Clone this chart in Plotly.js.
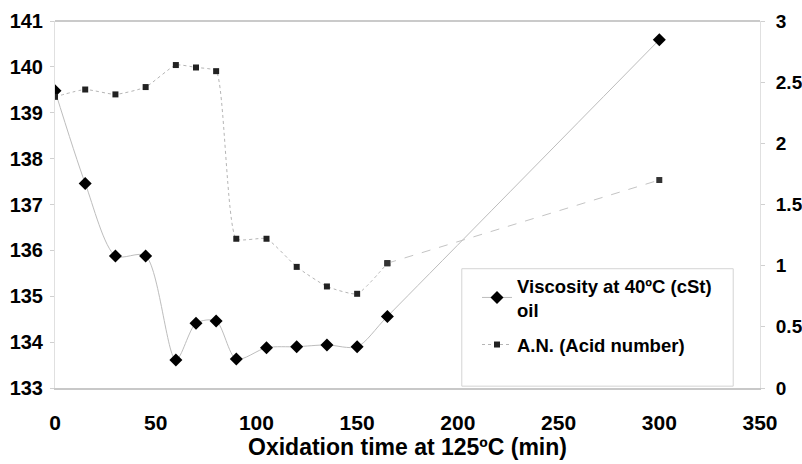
<!DOCTYPE html>
<html>
<head>
<meta charset="utf-8">
<script src="https://cdn.plot.ly/plotly-3.0.1.min.js"></script>
<style>
  html, body { margin: 0; padding: 0; background: #fff; }
  #chart { width: 802px; height: 464px; }
</style>
</head>
<body>
<div id="chart"></div>
<script>
// Oxidation time (min)
const oxidationTime = [0, 15, 30, 45, 60, 70, 80, 90, 105, 120, 135, 150, 165, 300];
// Viscosity at 40 ºC (cSt), left axis
const viscosity = [139.48, 137.46, 135.88, 135.88, 133.61, 134.41, 134.46, 133.63, 133.88, 133.90, 133.94, 133.90, 134.56, 140.59];
// Acid number, right axis
const acidNumber = [2.38, 2.44, 2.40, 2.46, 2.64, 2.62, 2.59, 1.22, 1.22, 0.99, 0.83, 0.77, 1.02, 1.70];

const xTicks = [0, 50, 100, 150, 200, 250, 300, 350];
const leftTicks = [133, 134, 135, 136, 137, 138, 139, 140, 141];
const rightTicks = [0, 0.5, 1, 1.5, 2, 2.5, 3];

const viscosityName = 'Viscosity at 40ºC (cSt)<br>oil';
const acidName = 'A.N. (Acid number)';

const FONT = 'Liberation Sans, Arial, sans-serif';

// the last acid-number stretch (165 -> 300 min) is drawn dashed
const tailStart = oxidationTime.length - 2;

const traces = [
  {
    x: oxidationTime, y: viscosity, yaxis: 'y', name: viscosityName,
    legendgroup: 'visc',
    mode: 'lines+markers',
    line: { color: '#bdbdbd', width: 1, shape: 'spline', smoothing: 0.8 },
    marker: { symbol: 'diamond', size: 10, color: '#000' }
  },
  {
    x: oxidationTime.slice(0, tailStart + 1), y: acidNumber.slice(0, tailStart + 1), yaxis: 'y2', name: acidName,
    legendgroup: 'an',
    mode: 'lines+markers',
    line: { color: '#b5b5b5', width: 1, dash: 'dot', shape: 'spline', smoothing: 0.5 },
    marker: { symbol: 'square', size: 6, color: '#222' }
  },
  {
    x: oxidationTime.slice(tailStart), y: acidNumber.slice(tailStart), yaxis: 'y2', name: acidName,
    legendgroup: 'an',
    mode: 'lines+markers', showlegend: false,
    line: { color: '#c4c4c4', width: 1, dash: 'dash' },
    marker: { symbol: 'square', size: 6, color: '#333' }
  }
];

const tickFont = { family: FONT, size: 20, color: '#000', weight: 'bold' };

const layout = {
  width: 802, height: 464,
  margin: { l: 55, r: 42, t: 21, b: 76 },
  paper_bgcolor: '#fff', plot_bgcolor: '#fff',
  font: { family: FONT, color: '#000' },
  showlegend: true,
  xaxis: {
    range: [0, 350], tickvals: xTicks, ticktext: xTicks.map(String),
    showgrid: false, zeroline: false,
    showline: true, linecolor: '#c8c8c8', linewidth: 1.5,
    ticks: '', ticklabelstandoff: 15,
    tickfont: Object.assign({}, tickFont, { size: 21 }),
    title: { text: 'Oxidation time at 125ºC (min)', font: { family: FONT, size: 23, color: '#000', weight: 'bold' }, standoff: 0 }
  },
  yaxis: {
    range: [133, 141], tickvals: leftTicks, ticktext: leftTicks.map(String),
    showgrid: false, zeroline: false,
    showline: true, linecolor: '#e0e0e0', linewidth: 1,
    ticks: 'outside', ticklen: 4, tickcolor: '#d0d0d0', ticklabelstandoff: 3,
    tickfont: tickFont
  },
  yaxis2: {
    range: [0, 3], tickvals: rightTicks, ticktext: rightTicks.map(String),
    overlaying: 'y', side: 'right',
    showgrid: false, zeroline: false,
    showline: true, linecolor: '#e0e0e0', linewidth: 1,
    ticks: 'outside', ticklen: 4, tickcolor: '#d0d0d0', ticklabelstandoff: 7,
    tickfont: Object.assign({}, tickFont, { size: 19 })
  },
  legend: {
    x: 0.5986, y: 0.33, xanchor: 'left', yanchor: 'top',
    bgcolor: 'rgba(0,0,0,0)', borderwidth: 0,
    traceorder: 'grouped', tracegroupgap: 8,
    font: { family: FONT, size: 18.5, color: '#000', weight: 'bold' }
  },
  shapes: [
    { type: 'line', xref: 'paper', yref: 'paper', x0: 0, x1: 1, y0: 1, y1: 1, line: { color: '#b8b8b8', width: 1.5 } },
    { type: 'rect', xref: 'paper', yref: 'paper', x0: 0.577, x1: 0.962, y0: 0.005, y1: 0.325, line: { color: '#d4d4d4', width: 1 }, fillcolor: 'rgba(0,0,0,0)' }
  ]
};

Plotly.newPlot('chart', traces, layout, { displayModeBar: false, staticPlot: true });
</script>
</body>
</html>
